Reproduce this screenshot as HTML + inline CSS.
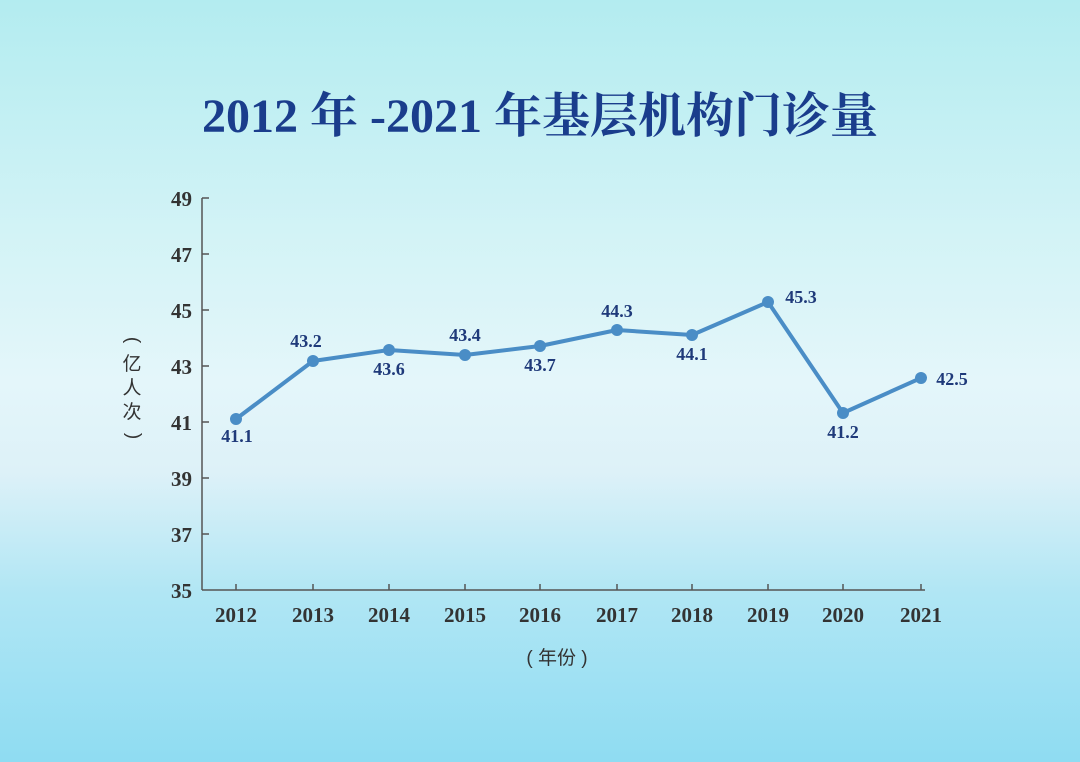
<!DOCTYPE html>
<html><head><meta charset="utf-8"><style>
body{margin:0;width:1080px;height:762px;overflow:hidden;background:linear-gradient(180deg,#b3ecf0 0%,#d2f3f6 30%,#e4f6fa 50%,#ddf1f8 62%,#b0e6f4 78%,#8fdcf2 100%);}
svg{position:absolute;left:0;top:0}
</style></head><body>
<svg width="1080" height="762" viewBox="0 0 1080 762">
<text x="540" y="132" text-anchor="middle" font-family="'Liberation Serif','Noto Serif CJK SC',serif" font-weight="bold" font-size="48" fill="#1a3d8c">2012 年 -2021 年基层机构门诊量</text>
<g stroke="#555" stroke-width="1.5" fill="none">
<line x1="202" y1="198" x2="202" y2="590"/>
<line x1="202" y1="590" x2="925" y2="590"/>
<line x1="202" y1="198" x2="209" y2="198"/><line x1="202" y1="254" x2="209" y2="254"/>
<line x1="202" y1="310" x2="209" y2="310"/><line x1="202" y1="366" x2="209" y2="366"/>
<line x1="202" y1="422" x2="209" y2="422"/><line x1="202" y1="478" x2="209" y2="478"/>
<line x1="202" y1="534" x2="209" y2="534"/>
<line x1="236" y1="590" x2="236" y2="584"/><line x1="313" y1="590" x2="313" y2="584"/>
<line x1="389" y1="590" x2="389" y2="584"/><line x1="465" y1="590" x2="465" y2="584"/>
<line x1="540" y1="590" x2="540" y2="584"/><line x1="617" y1="590" x2="617" y2="584"/>
<line x1="692" y1="590" x2="692" y2="584"/><line x1="768" y1="590" x2="768" y2="584"/>
<line x1="843" y1="590" x2="843" y2="584"/><line x1="921" y1="590" x2="921" y2="584"/>
</g>
<g font-family="'Liberation Serif',serif" font-weight="bold" font-size="21" fill="#333" text-anchor="end">
<text x="192" y="206">49</text><text x="192" y="262">47</text><text x="192" y="318">45</text>
<text x="192" y="374">43</text><text x="192" y="430">41</text><text x="192" y="486">39</text>
<text x="192" y="542">37</text><text x="192" y="598">35</text>
</g>
<g font-family="'Liberation Serif',serif" font-weight="bold" font-size="21" fill="#333" text-anchor="middle">
<text x="236" y="622">2012</text><text x="313" y="622">2013</text><text x="389" y="622">2014</text>
<text x="465" y="622">2015</text><text x="540" y="622">2016</text><text x="617" y="622">2017</text>
<text x="692" y="622">2018</text><text x="768" y="622">2019</text><text x="843" y="622">2020</text>
<text x="921" y="622">2021</text>
</g>
<text x="557" y="664" text-anchor="middle" font-family="'Liberation Sans','Noto Sans CJK SC',sans-serif" font-size="19" fill="#333">( 年份 )</text>
<g font-family="'Liberation Sans','Noto Sans CJK SC',sans-serif" font-size="19" fill="#333" text-anchor="middle">
<text x="132" y="345" transform="rotate(90 132 340)">(</text>
<text x="132" y="370">亿</text><text x="132" y="394">人</text><text x="132" y="418">次</text>
<text x="132" y="440" transform="rotate(90 132 436)">)</text>
</g>
<polyline fill="none" stroke="#4a8dc6" stroke-width="4" stroke-linejoin="round" points="236,419 313,361 389,350 465,355 540,346 617,330 692,335 768,302 843,413 921,378"/>
<g fill="#4a8dc6">
<circle cx="236" cy="419" r="6"/><circle cx="313" cy="361" r="6"/><circle cx="389" cy="350" r="6"/>
<circle cx="465" cy="355" r="6"/><circle cx="540" cy="346" r="6"/><circle cx="617" cy="330" r="6"/>
<circle cx="692" cy="335" r="6"/><circle cx="768" cy="302" r="6"/><circle cx="843" cy="413" r="6"/>
<circle cx="921" cy="378" r="6"/>
</g>
<g font-family="'Liberation Serif',serif" font-weight="bold" font-size="18" fill="#1f3a7a" text-anchor="middle">
<text x="237" y="442">41.1</text><text x="306" y="347">43.2</text><text x="389" y="375">43.6</text>
<text x="465" y="341">43.4</text><text x="540" y="371">43.7</text><text x="617" y="317">44.3</text>
<text x="692" y="360">44.1</text><text x="801" y="303">45.3</text><text x="843" y="438">41.2</text>
<text x="952" y="385">42.5</text>
</g>
</svg>
</body></html>
